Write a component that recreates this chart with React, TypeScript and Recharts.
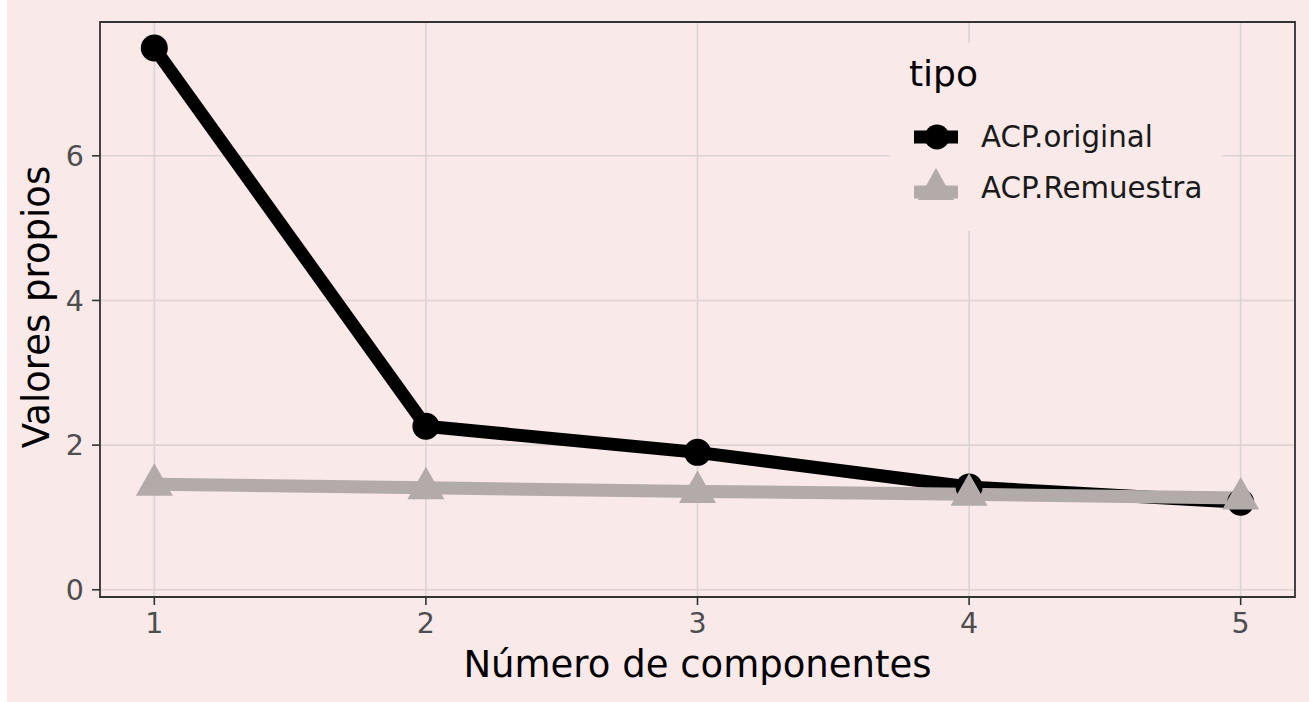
import React from 'react';
import {
  LineChart,
  Line,
  XAxis,
  YAxis,
  CartesianGrid,
  Legend,
  ReferenceArea,
  Label,
} from 'recharts';

// eigenvalues per component
const componentes = [1, 2, 3, 4, 5];
const acpOriginal = [7.49, 2.26, 1.9, 1.42, 1.21];
const acpRemuestra = [1.46, 1.41, 1.36, 1.32, 1.27];
const yTicks = [0, 2, 4, 6];
const seriesNames = ['ACP.original', 'ACP.Remuestra'];

const BG = '#f9e9e9';
const BLACK = '#000000';
const GREY = '#b3aaaa';
const GRID = '#ddd3d3';
const FONT = '"DejaVu Sans", sans-serif';

const data = componentes.map((c, i) => ({
  componente: c,
  original: acpOriginal[i],
  remuestra: acpRemuestra[i],
}));

const TriangleDot = (props: any) => {
  const { cx, cy, index } = props;
  if (cx == null || cy == null) return null;
  return (
    <path
      key={`tri-${index}`}
      d={`M${cx},${cy - 21} L${cx + 18.5},${cy + 11.5} L${cx - 18.5},${cy + 11.5} Z`}
      fill={GREY}
    />
  );
};

const CustomLegend = () => (
  <svg width={332} height={192} style={{ display: 'block' }}>
    <rect x={0} y={3} width={332} height={188} fill={BG} />
    <text x={19} y={46} fontSize={36} fill="#000" fontFamily={FONT}>
      tipo
    </text>
    <rect x={24} y={90.5} width={44} height={13} fill={BLACK} />
    <circle cx={47} cy={97} r={12.5} fill={BLACK} />
    <text x={91} y={107} fontSize={29.3} fill="#1a1a1a" fontFamily={FONT}>
      {seriesNames[0]}
    </text>
    <rect x={24} y={145.5} width={44} height={13} fill={GREY} />
    <path d="M46,128 L64,160 L28,160 Z" fill={GREY} />
    <text x={91} y={158} fontSize={29.3} fill="#1a1a1a" fontFamily={FONT}>
      {seriesNames[1]}
    </text>
  </svg>
);

export default function App() {
  return (
    <div style={{ width: 1309, height: 702, background: '#ffffff', paddingLeft: 7, boxSizing: 'border-box' }}>
      <style>{'body{margin:0}'}</style>
      <LineChart
        width={1302}
        height={702}
        data={data}
        margin={{ top: 22, right: 14, left: 0, bottom: 0 }}
        style={{ background: BG, fontFamily: FONT }}
      >
        <CartesianGrid stroke={GRID} strokeWidth={1.6} />
        <XAxis
          dataKey="componente"
          type="number"
          domain={[0.8, 5.2]}
          ticks={componentes}
          allowDataOverflow
          height={105}
          tickSize={8}
          tickMargin={8}
          axisLine={false}
          tickLine={{ stroke: '#333333', strokeWidth: 1.6 }}
          tick={{ fill: '#4d4d4d', fontSize: 28.5, fontFamily: FONT }}
        >
          <Label
            value="Número de componentes"
            position="insideBottom"
            offset={25}
            fill="#000"
            fontSize={37}
            fontFamily={FONT}
          />
        </XAxis>
        <YAxis
          type="number"
          domain={[-0.1, 7.85]}
          ticks={yTicks}
          allowDataOverflow
          width={93}
          tickSize={8}
          tickMargin={8}
          axisLine={false}
          tickLine={{ stroke: '#333333', strokeWidth: 1.6 }}
          tick={{ fill: '#4d4d4d', fontSize: 28.5, fontFamily: FONT }}
        >
          <Label
            content={() => (
              <text
                x={42}
                y={307}
                transform="rotate(-90 42 307)"
                textAnchor="middle"
                fontSize={37}
                fill="#000"
                fontFamily={FONT}
              >
                Valores propios
              </text>
            )}
          />
        </YAxis>
        <ReferenceArea
          x1={0.8}
          x2={5.2}
          y1={-0.1}
          y2={7.85}
          fill="none"
          stroke="#333333"
          strokeWidth={1.8}
        />
        <Line
          dataKey="original"
          name={seriesNames[0]}
          type="linear"
          stroke={BLACK}
          strokeWidth={13}
          dot={{ r: 13.5, fill: BLACK, stroke: 'none' }}
          activeDot={false}
          isAnimationActive={false}
        />
        <Line
          dataKey="remuestra"
          name={seriesNames[1]}
          type="linear"
          stroke={GREY}
          strokeWidth={13}
          dot={<TriangleDot />}
          activeDot={false}
          isAnimationActive={false}
        />
        <Legend
          layout="vertical"
          align="center"
          verticalAlign="middle"
          content={<CustomLegend />}
          wrapperStyle={{ position: 'absolute', left: 883, top: 40, width: 332, height: 192 }}
        />
      </LineChart>
    </div>
  );
}
